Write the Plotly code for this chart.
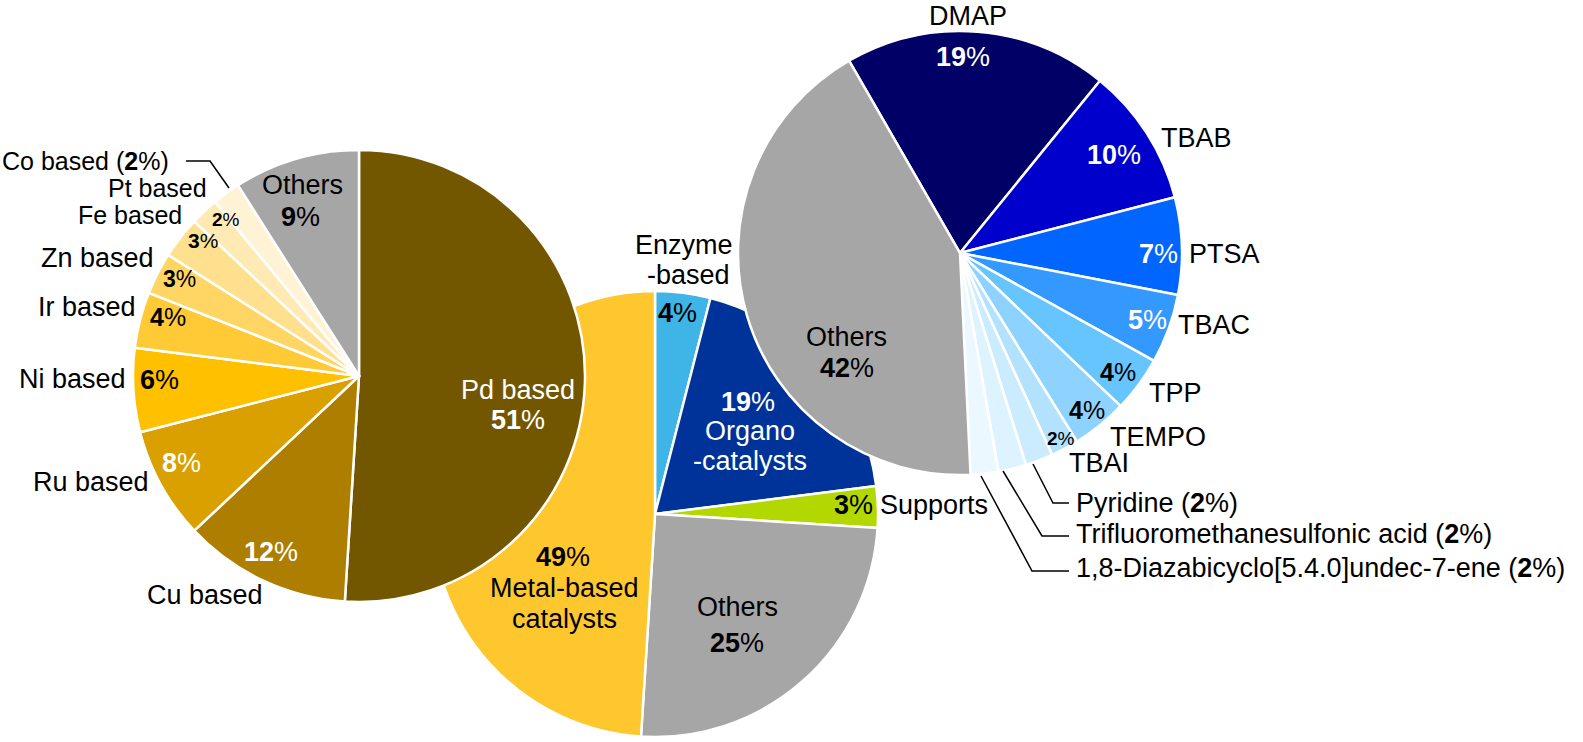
import plotly.graph_objects as go

W, H = 1583, 742
FONT = "Liberation Sans, Arial, sans-serif"
S = 27  # base label size

# ---------------- data ----------------
metal_labels = ["Pd based", "Cu based", "Ru based", "Ni based", "Ir based", "Zn based",
                "Fe based", "Pt based", "Co based", "Others"]
metal_values = [51, 12, 8, 6, 4, 3, 3, 2, 2, 9]
metal_colors = ["#735700", "#AE7E00", "#D9A000", "#FFC000", "#FFCA36", "#FFD663",
                "#FFE08F", "#FFEAB3", "#FFF3D6", "#A6A6A6"]

cat_labels = ["Enzyme-based", "Organo-catalysts", "Supports", "Others", "Metal-based catalysts"]
cat_values = [4, 19, 3, 25, 49]
cat_colors = ["#3FB4E6", "#003399", "#B3D700", "#A6A6A6", "#FFC72E"]

org_labels = ["DMAP", "TBAB", "PTSA", "TBAC", "TPP", "TEMPO", "TBAI", "Pyridine",
              "Trifluoromethanesulfonic acid", "1,8-Diazabicyclo[5.4.0]undec-7-ene", "Others"]
org_values = [19, 10, 7, 5, 4, 4, 2, 2, 2, 2, 42]
org_colors = ["#000066", "#0000CC", "#0066FF", "#3399FF", "#66C4FF", "#8ED3FF",
              "#B3E2FF", "#CBECFF", "#DDF3FF", "#ECF8FF", "#A6A6A6"]


def dom(cx, cy, r):
    return dict(x=[(cx - r) / W, (cx + r) / W], y=[1 - (cy + r) / H, 1 - (cy - r) / H])


def pie(labels, values, colors, domain, rotation=0):
    return go.Pie(labels=labels, values=values, sort=False, direction="clockwise",
                  rotation=rotation, domain=domain, textinfo="none", hoverinfo="skip",
                  showlegend=False,
                  marker=dict(colors=colors, line=dict(color="white", width=2.5)))


fig = go.Figure()
fig.add_trace(pie(cat_labels, cat_values, cat_colors, dom(655, 514, 223)))
fig.add_trace(pie(metal_labels, metal_values, metal_colors, dom(359, 376, 226)))
fig.add_trace(pie(org_labels, org_values, org_colors, dom(960, 253, 222), rotation=-30))

K, Wt = "black", "white"
labels = [
    # left pie
    ("Co based (<b>2</b>%)", 1, 161, "left", 25, K),
    ("Pt based", 208, 188, "right", 25, K),
    ("Fe based", 183, 215, "right", 25, K),
    ("Zn based", 155, 258, "right", S, K),
    ("Ir based", 137, 307, "right", S, K),
    ("Ni based", 127, 379, "right", S, K),
    ("Ru based", 150, 482, "right", S, K),
    ("Cu based", 205, 595, "center", S, K),
    ("<b>2</b>%", 226, 219, "center", 19, K),
    ("<b>3</b>%", 203, 241, "center", 21, K),
    ("<b>3</b>%", 179, 279, "center", 23, K),
    ("<b>4</b>%", 168, 317, "center", 25, K),
    ("<b>6</b>%", 159, 380, "center", S, K),
    ("Others", 302, 185, "center", S, K),
    ("<b>9</b>%", 300, 217, "center", S, K),
    ("<b>8</b>%", 181, 463, "center", S, Wt),
    ("<b>12</b>%", 271, 552, "center", S, Wt),
    ("Pd based", 518, 390, "center", S, Wt),
    ("<b>51</b>%", 518, 420, "center", S, Wt),
    # centre pie
    ("Enzyme", 684, 245, "center", S, K),
    ("-based", 688, 275, "center", S, K),
    ("<b>4</b>%", 677, 313, "center", S, K),
    ("<b>19</b>%", 748, 402, "center", S, Wt),
    ("Organo", 750, 431, "center", S, Wt),
    ("-catalysts", 750, 461, "center", S, Wt),
    ("<b>3</b>%", 853, 505, "center", S, K),
    ("Supports", 879, 505, "left", S, K),
    ("<b>49</b>%", 563, 557, "center", S, K),
    ("Metal-based", 564, 588, "center", S, K),
    ("catalysts", 564, 619, "center", S, K),
    ("Others", 737, 607, "center", S, K),
    ("<b>25</b>%", 737, 643, "center", S, K),
    # right pie
    ("DMAP", 968, 16, "center", S, K),
    ("<b>19</b>%", 963, 57, "center", S, Wt),
    ("TBAB", 1160, 138, "left", S, K),
    ("<b>10</b>%", 1114, 155, "center", S, Wt),
    ("PTSA", 1188, 254, "left", S, K),
    ("<b>7</b>%", 1158, 254, "center", S, Wt),
    ("TBAC", 1177, 325, "left", S, K),
    ("<b>5</b>%", 1147, 320, "center", S, Wt),
    ("TPP", 1148, 393, "left", S, K),
    ("<b>4</b>%", 1118, 372, "center", 25, K),
    ("TEMPO", 1109, 437, "left", S, K),
    ("<b>4</b>%", 1087, 410, "center", 25, K),
    ("TBAI", 1068, 463, "left", S, K),
    ("<b>2</b>%", 1061, 438, "center", 19, K),
    ("Others", 847, 337, "center", S, K),
    ("<b>42</b>%", 847, 368, "center", S, K),
    ("Pyridine (<b>2</b>%)", 1075, 503, "left", S, K),
    ("Trifluoromethanesulfonic acid (<b>2</b>%)", 1075, 534, "left", S, K),
    ("1,8-Diazabicyclo[5.4.0]undec-7-ene (<b>2</b>%)", 1075, 568, "left", S, K),
]

annotations = []
for text, x, y, anchor, size, color in labels:
    annotations.append(dict(text=text, x=x / W, y=1 - y / H, xref="paper", yref="paper",
                            xanchor=anchor, yanchor="middle", showarrow=False, borderpad=0,
                            font=dict(family=FONT, size=size, color=color)))

leaders = [
    [(186, 161), (210, 161), (229, 188)],
    [(1033, 464), (1053, 503), (1069, 503)],
    [(1003, 471), (1042, 536), (1069, 536)],
    [(981, 476), (1032, 571), (1069, 571)],
]
shapes = []
for pts in leaders:
    path = "M " + " L ".join(f"{x / W:.5f},{1 - y / H:.5f}" for x, y in pts)
    shapes.append(dict(type="path", path=path, xref="paper", yref="paper",
                       line=dict(color="black", width=1.5)))

fig.update_layout(width=W, height=H, margin=dict(l=0, r=0, t=0, b=0),
                  paper_bgcolor="white", plot_bgcolor="white",
                  annotations=annotations, shapes=shapes,
                  font=dict(family=FONT))

fig.write_html("out.html", config={"displayModeBar": False},
               post_script="document.body.style.margin='0';")
